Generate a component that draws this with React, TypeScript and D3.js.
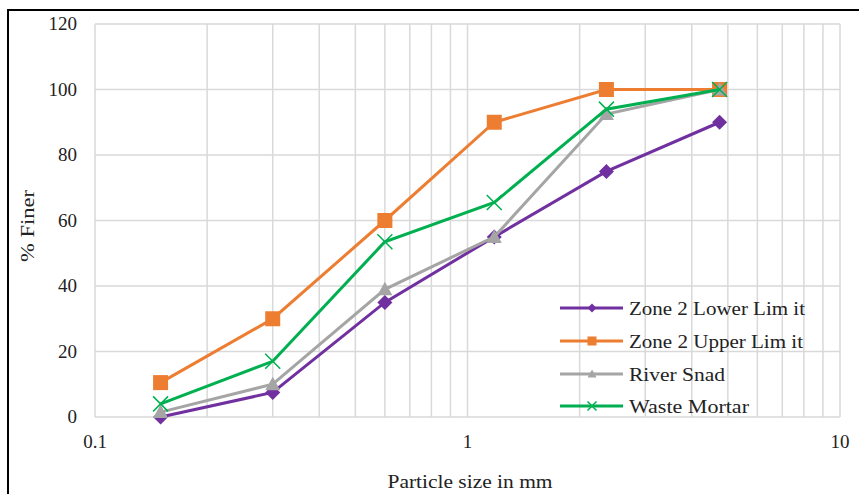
import React from "react";
import * as d3 from "d3";

const sizes = [0.15, 0.3, 0.6, 1.18, 2.36, 4.75];
const lowerLimit = [0, 7.5, 35, 55, 75, 90];
const upperLimit = [10.5, 30, 60, 90, 100, 100];
const riverSand = [1.5, 10, 39, 55, 92.5, 100];
const wasteMortar = [4, 17, 53.5, 65.5, 94, 100];
const seriesNames = ["Zone 2 Lower Lim it", "Zone 2 Upper Lim it", "River Snad", "Waste Mortar"];
const seriesColors = ["#7030A0", "#ED7D31", "#A5A5A5", "#00B050"];
const seriesMarkers = ["diamond", "square", "triangle", "x"];
const yTicks = [0, 20, 40, 60, 80, 100, 120];
const xTickLabels = [0.1, 1, 10];

const W = 859, H = 494;
const M = { left: 95, right: 840, top: 24, bottom: 417 };
const FONT = "'Liberation Serif', 'DejaVu Serif', serif";

function Marker({ type, x, y, color, s }: { type: string; x: number; y: number; color: string; s: number }) {
  if (type === "diamond") {
    return <path d={`M${x},${y - s}L${x + s},${y}L${x},${y + s}L${x - s},${y}Z`} fill={color} />;
  }
  if (type === "square") {
    return <rect x={x - s} y={y - s} width={2 * s} height={2 * s} fill={color} />;
  }
  if (type === "triangle") {
    return <path d={`M${x},${y - s}L${x + s},${y + s * 0.8}L${x - s},${y + s * 0.8}Z`} fill={color} />;
  }
  return (
    <path d={`M${x - s},${y - s}L${x + s},${y + s}M${x - s},${y + s}L${x + s},${y - s}`} stroke={color} strokeWidth={1.5} fill="none" />
  );
}

const legendWidths = [176, 174, 96, 120];

export default function App() {
  const x = d3.scaleLog().domain([0.1, 10]).range([M.left, M.right]);
  const y = d3.scaleLinear().domain([0, 120]).range([M.bottom, M.top]);
  const data = [lowerLimit, upperLimit, riverSand, wasteMortar];
  const minor: number[] = [];
  for (const dec of [0.1, 1]) for (let k = 2; k <= 9; k++) minor.push(dec * k);
  const line = d3.line<[number, number]>().x((d) => x(d[0])).y((d) => y(d[1]));
  const legendY = [308, 341, 374, 406];
  const ts = { fontFamily: FONT };

  return (
    <svg width={W} height={H} style={{ position: "absolute", left: 0, top: 0, background: "#fff" }}>
      <rect x={0} y={0} width={W} height={H} fill="#fff" />
      <rect x={8} y={10} width={W + 20} height={H + 20} fill="none" stroke="#000" strokeWidth={2} />
      {yTicks.map((t) => (
        <line key={"h" + t} x1={M.left} x2={M.right} y1={y(t)} y2={y(t)} stroke="#d9d9d9" strokeWidth={1.5} />
      ))}
      {[...xTickLabels, ...minor].map((t) => (
        <line key={"v" + t} x1={x(t)} x2={x(t)} y1={M.top} y2={M.bottom} stroke="#d9d9d9" strokeWidth={1.5} />
      ))}
      {yTicks.map((t) => (
        <text key={"yl" + t} x={77} y={y(t) + 6} textAnchor="end" fontSize={19} fill="#222" style={ts}>
          {t}
        </text>
      ))}
      {xTickLabels.map((t) => (
        <text key={"xl" + t} x={x(t)} y={448} textAnchor="middle" fontSize={19} fill="#222" style={ts}>
          {t}
        </text>
      ))}
      <text x={470} y={488} textAnchor="middle" fontSize={18} fill="#222" style={ts} textLength={165} lengthAdjust="spacingAndGlyphs">
        Particle size in mm
      </text>
      <text transform="translate(34,226) rotate(-90)" textAnchor="middle" fontSize={18} fill="#222" style={ts} textLength={72} lengthAdjust="spacingAndGlyphs">
        % Finer
      </text>
      {data.map((vals, i) => {
        const pts = sizes.map((s, j) => [s, vals[j]] as [number, number]);
        return (
          <g key={"s" + i}>
            <path d={line(pts) || ""} fill="none" stroke={seriesColors[i]} strokeWidth={3} />
            {pts.map((p, j) => (
              <Marker key={j} type={seriesMarkers[i]} x={x(p[0])} y={y(p[1])} color={seriesColors[i]} s={7.5} />
            ))}
          </g>
        );
      })}
      {seriesNames.map((n, i) => (
        <g key={"lg" + i}>
          <line x1={560} x2={623} y1={legendY[i]} y2={legendY[i]} stroke={seriesColors[i]} strokeWidth={3} />
          <Marker type={seriesMarkers[i]} x={592} y={legendY[i]} color={seriesColors[i]} s={4.5} />
          <text x={629} y={legendY[i] + 7} fontSize={18.5} fill="#222" style={ts} textLength={legendWidths[i]} lengthAdjust="spacingAndGlyphs">
            {n}
          </text>
        </g>
      ))}
    </svg>
  );
}
